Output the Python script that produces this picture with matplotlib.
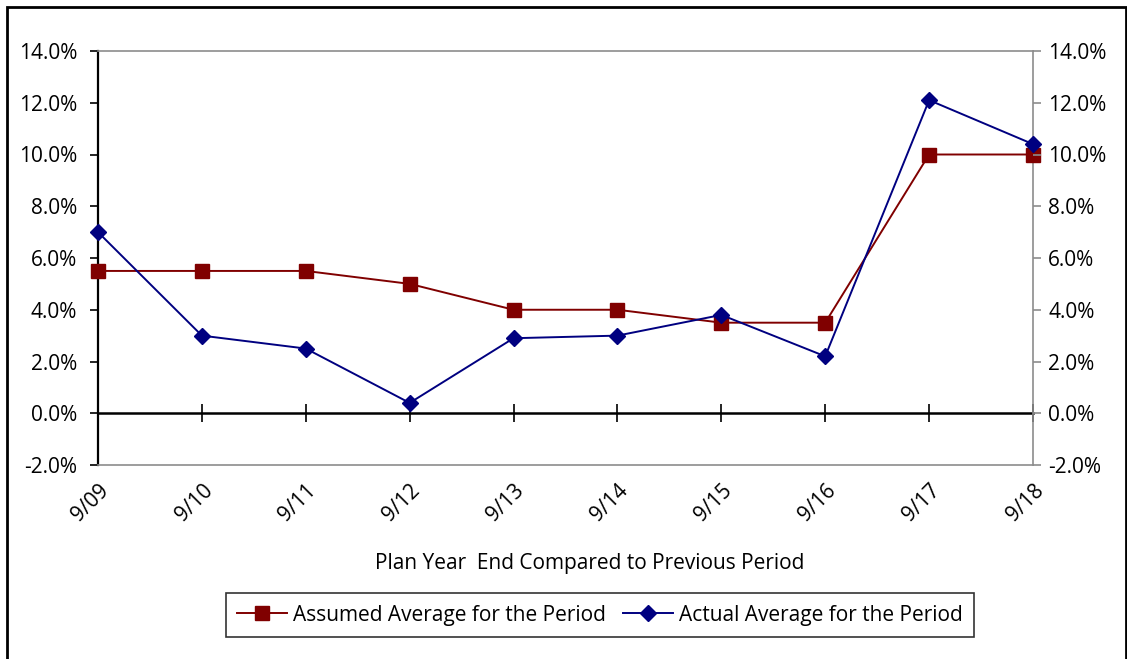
import matplotlib.pyplot as plt
import matplotlib.ticker as mticker
from matplotlib.patches import Rectangle

periods = ["9/09", "9/10", "9/11", "9/12", "9/13", "9/14", "9/15", "9/16", "9/17", "9/18"]
assumed = [5.5, 5.5, 5.5, 5.0, 4.0, 4.0, 3.5, 3.5, 10.0, 10.0]
actual = [7.0, 3.0, 2.5, 0.4, 2.9, 3.0, 3.8, 2.2, 12.1, 10.4]
y_ticks = [-2, 0, 2, 4, 6, 8, 10, 12, 14]

plt.rcParams["font.family"] = ["Open Sans", "DejaVu Sans"]
FS = 15

fig = plt.figure(figsize=(11.27, 6.59), dpi=100)
ax = fig.add_axes([98 / 1127, 1 - 465 / 659, (1033 - 98) / 1127, (465 - 51) / 659])

x = list(range(len(periods)))
ax.plot(x, assumed, color="#800000", lw=1.4, marker="s", ms=10,
        label="Assumed Average for the Period", clip_on=False, zorder=3)
ax.plot(x, actual, color="#000080", lw=1.4, marker="D", ms=8.5,
        label="Actual Average for the Period", clip_on=False, zorder=4)

ax.set_xlim(0, len(periods) - 1)
ax.set_ylim(-2, 14)
ax.set_yticks(y_ticks)
ax.yaxis.set_major_formatter(mticker.FuncFormatter(lambda v, p: f"{v:.1f}%"))
ax.tick_params(axis="y", direction="out", length=6, width=1.2, colors="black",
               labelsize=FS, pad=9)

ax.set_xticks(x)
ax.set_xticklabels(periods, rotation=45, ha="right", va="top", rotation_mode="anchor",
                   fontsize=FS)
ax.tick_params(axis="x", length=0, pad=11)

for side in ["top", "bottom", "right"]:
    ax.spines[side].set_color("#8c8c8c")
    ax.spines[side].set_linewidth(1.2)
ax.spines["left"].set_color("black")
ax.spines["left"].set_linewidth(1.6)

# zero line with crossing ticks
zero = ax.secondary_xaxis(2 / 16)
zero.set_xticks(x[1:])
zero.tick_params(direction="inout", length=13, width=1.2, labelbottom=False,
                 labeltop=False)
zero.spines["bottom"].set_color("black")
zero.spines["bottom"].set_linewidth(1.8)
zero.spines["top"].set_visible(False)

# right-hand duplicate scale
ax2 = ax.twinx()
ax2.set_ylim(ax.get_ylim())
ax2.set_yticks(y_ticks)
ax2.yaxis.set_major_formatter(mticker.FuncFormatter(lambda v, p: f"{v:.1f}%"))
ax2.tick_params(axis="y", direction="out", length=6, width=1.2, colors="#8c8c8c",
                labelcolor="black", labelsize=FS, pad=5)
for side in ["top", "bottom", "left", "right"]:
    ax2.spines[side].set_visible(False)

fig.text(590 / 1127, 1 - 564 / 659, "Plan Year  End Compared to Previous Period",
         ha="center", va="center", fontsize=FS)

leg = fig.legend(loc="center", bbox_to_anchor=(600 / 1127, 1 - 615 / 659), ncol=2,
                 fontsize=FS, frameon=True, fancybox=False, edgecolor="black",
                 handlelength=2.4, handletextpad=0.3, columnspacing=0.8,
                 borderpad=0.55, markerscale=1.0)
leg.get_frame().set_linewidth(1.2)

fig.patches.append(Rectangle((7 / 1127, -0.05), (1126 - 7) / 1127, 1.05 - 7 / 659,
                             transform=fig.transFigure, fill=False,
                             edgecolor="black", lw=2))

fig.savefig("out.png", dpi=100)
